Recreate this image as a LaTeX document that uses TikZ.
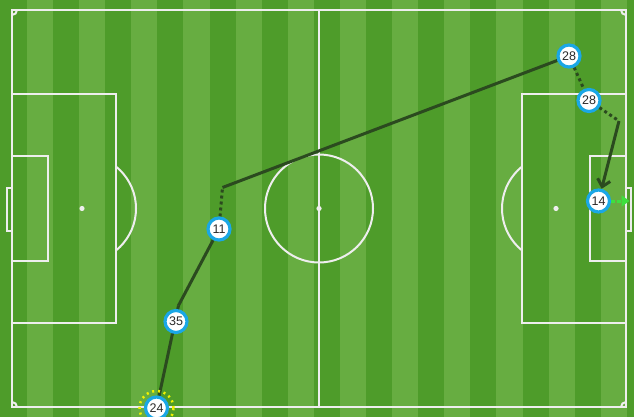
\documentclass[tikz,border=0pt]{standalone}
\usepackage{fontspec}
\setmainfont{Liberation Sans}
\usetikzlibrary{arrows.meta}
\definecolor{grassdark}{HTML}{4E9C2A}
\definecolor{grasslight}{HTML}{67AD41}
\definecolor{pitchline}{HTML}{EEEEEE}
\definecolor{passline}{HTML}{2B4A1F}
\definecolor{ringblue}{HTML}{1AA7E6}
\definecolor{shotgreen}{HTML}{3EE03E}
\definecolor{markyellow}{HTML}{F2F200}
\definecolor{numtext}{HTML}{2A2A2A}
\pgfdeclarelayer{bg}
\pgfsetlayers{bg,main}
\tikzset{
  pl/.style={draw=pitchline, line width=2pt},
  player/.style={circle, draw=ringblue, line width=3.2pt, fill=white, minimum size=22pt, inner sep=0pt,
    font=\fontsize{12.5}{12.5}\selectfont, text=numtext},
  ringmark/.style={circle, draw=markyellow, line width=2.5pt, dash pattern=on 2pt off 3.8pt, minimum size=34pt, inner sep=0pt},
  link/.style={draw=passline, line width=3pt},
  carry/.style={link, dash pattern=on 3pt off 3pt},
  shot/.style={draw=shotgreen, line width=3pt, dash pattern=on 4pt off 2pt, -{Triangle[length=8pt,width=11pt]}}
}
\begin{document}
\begin{tikzpicture}[x=1pt,y=-1pt]
\useasboundingbox (0,0) rectangle (634,417);
\begin{pgfonlayer}{bg}
  % grass
  \fill[grassdark] (0,0) rectangle (634,417);
  \foreach \k in {0,...,11} {
    \fill[grasslight] ({27+52.16*\k},0) rectangle ({53.08+52.16*\k},417);
  }
  % pitch markings
  \draw[pl] (12,10) rectangle (626,407);
  \draw[pl] (319,10) -- (319,407);
  \draw[pl] (319,208.5) circle[radius=54];
  \fill[pitchline] (319,208.5) circle[radius=2.6];
  % left end
  \draw[pl] (12,94) rectangle (116,323);
  \draw[pl] (12,156) rectangle (48,261);
  \draw[pl] (12,188) rectangle (7,231);
  \fill[pitchline] (82,208.5) circle[radius=2.6];
  \begin{scope}
    \clip (117,0) rectangle (200,417);
    \draw[pl] (82,208.5) circle[radius=54];
  \end{scope}
  % right end
  \draw[pl] (626,94) rectangle (522,323);
  \draw[pl] (626,156) rectangle (590,261);
  \draw[pl] (626,188) rectangle (631,231);
  \fill[pitchline] (556,208.5) circle[radius=2.6];
  \begin{scope}
    \clip (521,0) rectangle (440,417);
    \draw[pl] (556,208.5) circle[radius=54];
  \end{scope}
  % corners
  \draw[pl] (17,10) arc[start angle=0,end angle=90,radius=5];
  \draw[pl] (621,10) arc[start angle=180,end angle=90,radius=5];
  \draw[pl] (17,407) arc[start angle=0,end angle=-90,radius=5];
  \draw[pl] (621,407) arc[start angle=180,end angle=270,radius=5];
\end{pgfonlayer}

% markers and players
\node[ringmark] (ring24) at (156.5,408) {};
\node[player] (n24) at (156.5,408) {24};
\node[player] (n35) at (176,321.5) {35};
\node[player] (n11) at (219,229) {11};
\node[player] (n28a) at (569,56) {28};
\node[player] (n28b) at (589,100.5) {28};
\node[player] (n14) at (598.5,201) {14};
\coordinate (c1) at (178.5,305.5);
\coordinate (c2) at (222.5,187.5);
\coordinate (c3) at (619,121);
\coordinate (c4) at (629.5,201);

\begin{pgfonlayer}{bg}
  \draw[link] (n24) -- (c1);
  \draw[link] (c1) -- (n11);
  \draw[carry] (n11) -- (c2);
  \draw[link, line join=round] (c2) -- (n28a);
  \draw[carry] (n28a) -- (n28b);
  \draw[carry] (n28b) -- (c3);
  \draw[link, -{Straight Barb[length=7pt,width=13pt]}] (c3) -- (n14);
  \draw[shot] (n14) -- (c4);
\end{pgfonlayer}
\end{tikzpicture}
\end{document}
